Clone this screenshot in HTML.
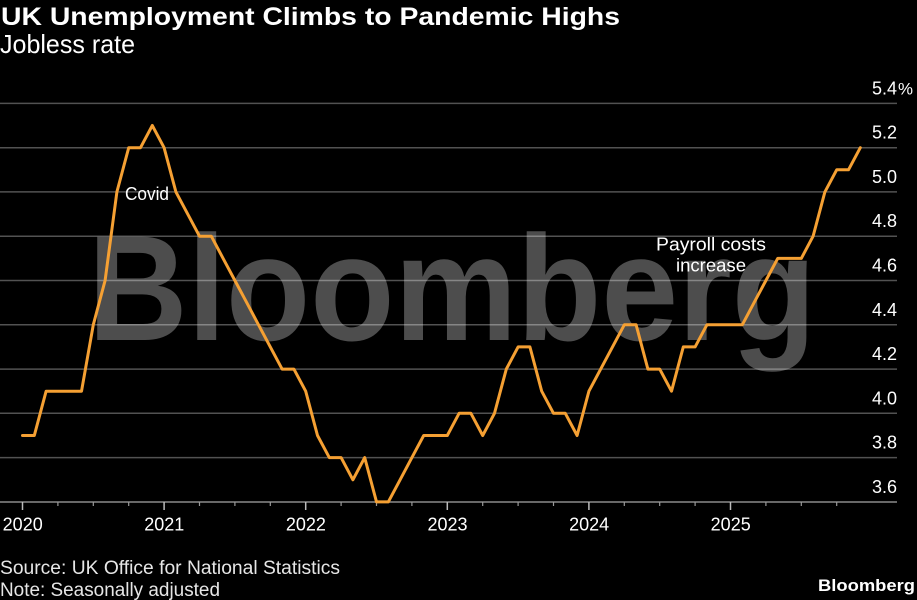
<!DOCTYPE html>
<html>
<head>
<meta charset="utf-8">
<style>
  html, body { margin: 0; padding: 0; background: #000; }
  body { width: 917px; height: 600px; overflow: hidden; }
  svg { display: block; }
  text { font-family: "Liberation Sans", sans-serif; fill: #fff; }
</style>
</head>
<body>
<svg width="917" height="600" viewBox="0 0 917 600" xmlns="http://www.w3.org/2000/svg">
  <rect x="0" y="0" width="917" height="600" fill="#000"/>

  <!-- Watermark -->
  <text x="88" y="340" font-size="150" font-weight="bold" fill="#4d4d4d" style="fill:#4d4d4d" textLength="728" lengthAdjust="spacingAndGlyphs">Bloomberg</text>

  <!-- Title -->
  <text x="1" y="25" font-size="25" font-weight="bold" textLength="619" lengthAdjust="spacingAndGlyphs">UK Unemployment Climbs to Pandemic Highs</text>
  <text x="0" y="53" font-size="26" textLength="135" lengthAdjust="spacingAndGlyphs">Jobless rate</text>

  <!-- Gridlines -->
  <g stroke="#ffffff" stroke-opacity="0.32" stroke-width="1.5">
    <line x1="0" y1="103.4" x2="897" y2="103.4"/>
    <line x1="0" y1="147.7" x2="897" y2="147.7"/>
    <line x1="0" y1="191.9" x2="897" y2="191.9"/>
    <line x1="0" y1="236.2" x2="897" y2="236.2"/>
    <line x1="0" y1="280.5" x2="897" y2="280.5"/>
    <line x1="0" y1="324.8" x2="897" y2="324.8"/>
    <line x1="0" y1="369.1" x2="897" y2="369.1"/>
    <line x1="0" y1="413.3" x2="897" y2="413.3"/>
    <line x1="0" y1="457.6" x2="897" y2="457.6"/>
  </g>
  <!-- Axis line -->
  <line x1="0" y1="502" x2="897" y2="502" stroke="#8a8a8a" stroke-width="1.5"/>

  <!-- Ticks -->
  <g stroke="#bbbbbb" stroke-width="1.5">
    <line x1="22.5" y1="502" x2="22.5" y2="510"/>
    <line x1="164.1" y1="502" x2="164.1" y2="510"/>
    <line x1="305.7" y1="502" x2="305.7" y2="510"/>
    <line x1="447.3" y1="502" x2="447.3" y2="510"/>
    <line x1="588.9" y1="502" x2="588.9" y2="510"/>
    <line x1="730.5" y1="502" x2="730.5" y2="510"/>
  </g>
  <g stroke="#999999" stroke-width="1.2">
    <line x1="57.9" y1="502" x2="57.9" y2="506"/>
    <line x1="93.3" y1="502" x2="93.3" y2="506"/>
    <line x1="128.7" y1="502" x2="128.7" y2="506"/>
    <line x1="199.5" y1="502" x2="199.5" y2="506"/>
    <line x1="234.9" y1="502" x2="234.9" y2="506"/>
    <line x1="270.3" y1="502" x2="270.3" y2="506"/>
    <line x1="341.1" y1="502" x2="341.1" y2="506"/>
    <line x1="376.5" y1="502" x2="376.5" y2="506"/>
    <line x1="411.9" y1="502" x2="411.9" y2="506"/>
    <line x1="482.7" y1="502" x2="482.7" y2="506"/>
    <line x1="518.1" y1="502" x2="518.1" y2="506"/>
    <line x1="553.5" y1="502" x2="553.5" y2="506"/>
    <line x1="624.3" y1="502" x2="624.3" y2="506"/>
    <line x1="659.7" y1="502" x2="659.7" y2="506"/>
    <line x1="695.1" y1="502" x2="695.1" y2="506"/>
    <line x1="765.9" y1="502" x2="765.9" y2="506"/>
    <line x1="801.3" y1="502" x2="801.3" y2="506"/>
    <line x1="836.7" y1="502" x2="836.7" y2="506"/>
  </g>

  <!-- Series -->
  <polyline fill="none" stroke="#f5a033" stroke-width="3" stroke-linejoin="round" stroke-linecap="round"
    points="22.5,435.5 34.3,435.5 46.1,391.2 57.9,391.2 69.7,391.2 81.5,391.2 93.3,324.8 105.1,280.5 116.9,191.9 128.7,147.7 140.5,147.7 152.3,125.5 164.1,147.7 175.9,191.9 187.7,214.1 199.5,236.2 211.3,236.2 223.1,258.4 234.9,280.5 246.7,302.6 258.5,324.8 270.3,346.9 282.1,369.1 293.9,369.1 305.7,391.2 317.5,435.5 329.3,457.6 341.1,457.6 352.9,479.8 364.7,457.6 376.5,501.9 388.3,501.9 400.1,479.8 411.9,457.6 423.7,435.5 435.5,435.5 447.3,435.5 459.1,413.3 470.9,413.3 482.7,435.5 494.5,413.3 506.3,369.1 518.1,346.9 529.9,346.9 541.7,391.2 553.5,413.3 565.3,413.3 577.1,435.5 588.9,391.2 600.7,369.1 612.5,346.9 624.3,324.8 636.1,324.8 647.9,369.1 659.7,369.1 671.5,391.2 683.3,346.9 695.1,346.9 706.9,324.8 718.7,324.8 730.5,324.8 742.3,324.8 754.1,302.6 765.9,280.5 777.7,258.4 789.5,258.4 801.3,258.4 813.1,236.2 824.9,191.9 836.7,169.8 848.5,169.8 860.3,147.7"/>

  <!-- Annotations -->
  <text x="125" y="200" font-size="18" textLength="44" lengthAdjust="spacingAndGlyphs">Covid</text>
  <text x="656" y="250.5" font-size="18" textLength="110" lengthAdjust="spacingAndGlyphs">Payroll costs</text>
  <text x="676" y="271.5" font-size="18" textLength="70" lengthAdjust="spacingAndGlyphs">increase</text>

  <!-- Y labels -->
  <g font-size="18" text-anchor="end">
    <text x="897" y="94.5">5.4</text>
    <text x="897" y="138.7">5.2</text>
    <text x="897" y="183">5.0</text>
    <text x="897" y="227.2">4.8</text>
    <text x="897" y="271.5">4.6</text>
    <text x="897" y="315.8">4.4</text>
    <text x="897" y="360.1">4.2</text>
    <text x="897" y="404.3">4.0</text>
    <text x="897" y="448.6">3.8</text>
    <text x="897" y="492.9">3.6</text>
  </g>
  <text x="898" y="94.5" font-size="17" textLength="15" lengthAdjust="spacingAndGlyphs">%</text>

  <!-- X labels -->
  <g font-size="18" text-anchor="middle">
    <text x="22.7" y="530.5">2020</text>
    <text x="164.3" y="530.5">2021</text>
    <text x="305.9" y="530.5">2022</text>
    <text x="447.5" y="530.5">2023</text>
    <text x="589.1" y="530.5">2024</text>
    <text x="730.7" y="530.5">2025</text>
  </g>

  <!-- Footer -->
  <text x="0" y="574" font-size="19" fill="#e6e6e6" style="fill:#e6e6e6" textLength="340" lengthAdjust="spacingAndGlyphs">Source: UK Office for National Statistics</text>
  <text x="0" y="596" font-size="19" fill="#e6e6e6" style="fill:#e6e6e6" textLength="220" lengthAdjust="spacingAndGlyphs">Note: Seasonally adjusted</text>
  <text x="818" y="591" font-size="17" font-weight="bold" textLength="97" lengthAdjust="spacingAndGlyphs">Bloomberg</text>
</svg>
</body>
</html>
